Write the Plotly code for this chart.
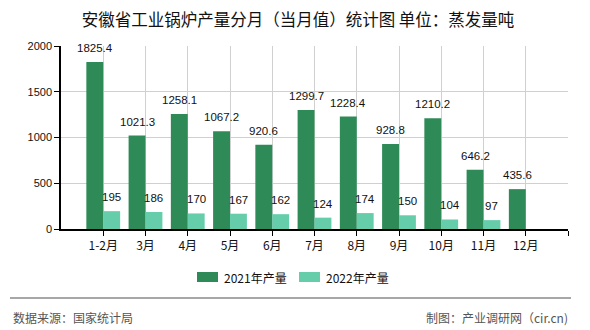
import plotly.graph_objects as go

categories = ["1-2月", "3月", "4月", "5月", "6月", "7月", "8月", "9月", "10月", "11月", "12月"]
values_2021 = [1825.4, 1021.3, 1258.1, 1067.2, 920.6, 1299.7, 1228.4, 928.8, 1210.2, 646.2, 435.6]
values_2022 = [195, 186, 170, 167, 162, 124, 174, 150, 104, 97, None]
series_names = ["2021年产量", "2022年产量"]
y_ticks = [0, 500, 1000, 1500, 2000]

title_text = "安徽省工业锅炉产量分月（当月值）统计图 单位：蒸发量吨"
source_text = "数据来源：国家统计局"
maker_text = "制图：产业调研网（cir.cn)"

C2021 = "#2E8B57"
C2022 = "#66CDAA"
CJK = "Noto Sans CJK SC"
NUM = "Liberation Sans"

W_PX, H_PX = 590, 330
L, R, T, B = 61, 568, 46, 229


def px(x):
    return (x - L) / (R - L)


def py(y):
    return (B - y) / (B - T)


def fmt(v):
    if v is None:
        return ""
    return str(int(v)) if float(v).is_integer() else f"{v:.1f}"


xs = list(range(len(categories)))

fig = go.Figure()
fig.add_trace(go.Bar(x=xs, y=values_2021, name=series_names[0], marker_color=C2021,
                     marker_line_width=0, showlegend=False))
fig.add_trace(go.Bar(x=xs, y=values_2022, name=series_names[1], marker_color=C2022,
                     marker_line_width=0, showlegend=False))

annotations = []
for i, (a, b) in enumerate(zip(values_2021, values_2022)):
    for v, off in ((a, -0.2), (b, 0.2)):
        if v is None:
            continue
        annotations.append(dict(x=i + off, y=v, xref="x", yref="y", text=fmt(v),
                                showarrow=False, yanchor="bottom", yshift=6,
                                font=dict(family=NUM, size=11.5, color="#111")))

# footer
annotations.append(dict(x=px(11), y=py(317), xref="paper", yref="paper", text=source_text,
                        showarrow=False, xanchor="left", yanchor="middle",
                        font=dict(family=CJK, size=12, color="#555")))
annotations.append(dict(x=px(570), y=py(317), xref="paper", yref="paper", text=maker_text,
                        showarrow=False, xanchor="right", yanchor="middle",
                        font=dict(family=CJK, size=12, color="#555")))

# manual legend
legend_items = [(series_names[0], C2021, 197), (series_names[1], C2022, 299)]
shapes = []
for name, col, x0 in legend_items:
    shapes.append(dict(type="rect", xref="paper", yref="paper", x0=px(x0), x1=px(x0 + 21),
                       y0=py(282), y1=py(272), fillcolor=col, line_width=0))
    annotations.append(dict(x=px(x0 + 25), y=py(277), xref="paper", yref="paper", text=name,
                            showarrow=False, xanchor="left", yanchor="middle",
                            font=dict(family=CJK, size=12, color="#111")))

shapes.append(dict(type="line", xref="paper", yref="paper", x0=px(10), x1=px(571),
                   y0=py(298), y1=py(298), line=dict(color="#8a8a8a", width=1.5)))

fig.update_layout(
    width=W_PX, height=H_PX,
    margin=dict(l=L, r=W_PX - R, t=T, b=H_PX - B, pad=0),
    paper_bgcolor="white", plot_bgcolor="white",
    barmode="group", bargap=0.2, bargroupgap=0,
    title=dict(text=title_text, x=298 / W_PX, xanchor="center", xref="container",
               y=1 - 20 / H_PX, yanchor="middle", yref="container",
               font=dict(family=CJK, size=16.5, color="#111")),
    xaxis=dict(range=[-1, len(categories)], tickmode="array",
               tickvals=list(range(len(categories) + 1)), ticktext=categories + [""],
               showgrid=True, gridcolor="#d0d0d0", gridwidth=1,
               showline=True, linecolor="#000", linewidth=1.5,
               ticks="outside", ticklen=5, tickcolor="#000", tickwidth=1,
               tickfont=dict(family=CJK, size=12, color="#111"), zeroline=False),
    yaxis=dict(range=[0, 2000], tickmode="array", tickvals=y_ticks,
               showgrid=True, gridcolor="#d0d0d0", gridwidth=1,
               showline=True, linecolor="#000", linewidth=1.5,
               ticks="outside", ticklen=5, tickcolor="#000", tickwidth=1,
               tickfont=dict(family=NUM, size=11, color="#111"), zeroline=False),
    annotations=annotations,
    shapes=shapes,
    showlegend=False,
)

fig.write_html("out.html")
